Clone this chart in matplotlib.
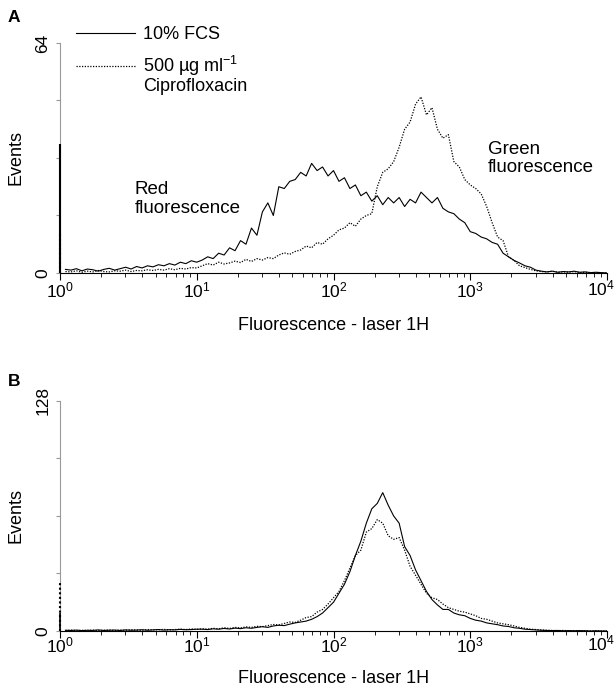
import numpy as np
import matplotlib
matplotlib.use('Agg')
import matplotlib.pyplot as plt

plt.rcParams['font.family'] = ['Liberation Sans', 'DejaVu Sans']
plt.rcParams['mathtext.fontset'] = 'custom'
plt.rcParams['mathtext.rm'] = 'Liberation Sans'
plt.rcParams['mathtext.it'] = 'Liberation Sans:italic'
plt.rcParams['mathtext.bf'] = 'Liberation Sans:bold'

# 荧光通道 (log10), 0 ~ 4, 共 101 个
log_fl = np.linspace(0, 4, 101)
fl = 10 ** log_fl

# 面板 A：10% FCS（实线）
a_fcs = [36, 1.0, 0.8, 1.2, 0.6, 1.1, 0.9, 0.5, 1.0, 1.3,
         0.8, 1.2, 1.6, 1.1, 1.8, 1.4, 2.0, 1.7, 2.3, 2.0,
         2.6, 2.2, 3.0, 2.6, 3.4, 3.0, 3.6, 4.5, 4.0, 5.5,
         5.0, 7.0, 6.2, 9.0, 8.0, 12.5, 10.5, 17.0, 19.5, 16.0,
         24.0, 23.5, 25.5, 26.0, 28.0, 27.0, 30.5, 28.5, 29.5, 27.0,
         28.5, 25.5, 26.5, 23.5, 24.5, 21.5, 22.5, 20.0, 21.5, 19.0,
         21.0, 19.5, 21.0, 18.5, 20.5, 19.5, 22.5, 21.0, 19.5, 21.0,
         18.0, 17.0, 16.5, 15.0, 14.0, 11.5, 11.0, 10.0, 9.5, 8.5,
         8.0, 5.5, 4.5, 3.5, 2.8, 2.0, 1.6, 0.8, 0.5, 0.3,
         0.5, 0.2, 0.4, 0.3, 0.5, 0.2, 0.3, 0.1, 0.2, 0.1, 0.0]
# 面板 A：500 µg/ml 环丙沙星（虚线）
a_cip = [11, 0.4, 0.3, 0.6, 0.2, 0.5, 0.3, 0.7, 0.4, 0.3,
         0.6, 0.5, 0.8, 0.4, 0.7, 0.6, 0.9, 0.7, 1.0, 0.8,
         1.2, 0.9, 1.3, 1.1, 1.5, 1.4, 2.0, 2.6, 2.2, 3.0,
         2.5, 2.8, 3.3, 2.9, 3.8, 3.2, 4.0, 3.6, 4.3, 4.0,
         5.0, 5.6, 5.2, 6.0, 6.4, 7.5, 7.0, 8.5, 8.0, 9.5,
         10.5, 12.0, 12.5, 14.0, 13.0, 15.0, 16.0, 16.5, 24.0, 28.0,
         29.0, 31.0, 35.0, 40.0, 42.0, 47.0, 49.0, 44.0, 46.0, 40.0,
         37.5, 38.5, 31.0, 29.5, 26.0, 24.5, 23.5, 22.0, 18.5, 14.0,
         10.0, 9.0, 4.5, 3.5, 2.0, 1.5, 1.0, 0.6, 0.4, 0.3,
         0.5, 0.2, 0.3, 0.2, 0.4, 0.1, 0.2, 0.1, 0.1, 0.0, 0.0]

# 面板 B
b_fcs = [10, 0.4, 0.3, 0.5, 0.2, 0.4, 0.3, 0.6, 0.3, 0.4,
         0.5, 0.3, 0.6, 0.4, 0.5, 0.7, 0.4, 0.6, 0.8, 0.5,
         0.7, 0.6, 0.9, 0.7, 0.8, 1.0, 1.0, 0.8, 1.2, 1.0,
         1.4, 1.1, 1.6, 1.3, 1.8, 1.5, 2.0, 2.4, 2.0, 2.8,
         3.2, 3.0, 3.8, 4.5, 5.0, 5.5, 6.5, 8.0, 10.0, 13.0,
         16.0, 21.0, 26.0, 33.0, 42.0, 50.0, 60.0, 68.0, 71.0, 77.0,
         70.0, 64.0, 60.0, 47.0, 42.0, 34.0, 28.0, 22.0, 17.5, 14.5,
         12.0, 12.0, 10.0, 9.0, 8.5, 7.0, 6.0, 5.5, 4.5, 4.0,
         3.5, 2.8, 2.5, 1.8, 1.5, 1.0, 0.8, 0.6, 0.4, 0.3,
         0.2, 0.3, 0.1, 0.2, 0.1, 0.2, 0.1, 0.0, 0.1, 0.0, 0.0]
b_cip = [27, 0.3, 0.5, 0.2, 0.4, 0.3, 0.5, 0.2, 0.4, 0.6,
         0.3, 0.5, 0.4, 0.7, 0.5, 0.4, 0.8, 0.6, 0.7, 0.9,
         0.6, 0.8, 1.0, 0.8, 1.1, 0.9, 1.2, 1.0, 1.5, 1.2,
         1.8, 1.4, 2.0, 1.7, 2.3, 2.0, 2.6, 2.4, 3.0, 3.6,
         3.4, 4.2, 5.0, 4.8, 6.0, 7.5, 8.0, 10.5, 12.0, 15.0,
         18.5, 22.0, 28.0, 35.0, 42.0, 45.0, 55.0, 57.0, 62.0, 60.0,
         53.0, 51.0, 52.0, 45.0, 36.0, 31.0, 26.0, 21.0, 18.5, 17.5,
         15.0, 13.0, 12.0, 11.0, 10.5, 9.5, 8.5, 7.0, 6.5, 5.5,
         4.5, 4.0, 3.5, 2.8, 2.0, 1.5, 1.0, 0.8, 0.6, 0.4,
         0.3, 0.2, 0.3, 0.1, 0.2, 0.1, 0.1, 0.0, 0.1, 0.0, 0.0]

decades = [1, 10, 100, 1000, 10000]
dec_labels = ['$10^{0}$', '$10^{1}$', '$10^{2}$', '$10^{3}$', '']

DOT = (0, (1, 1.2))

fig = plt.figure(figsize=(6.16, 6.89), dpi=100)
axA = fig.add_axes([0.0974, 0.6038, 0.888, 0.3338])
axB = fig.add_axes([0.0974, 0.0842, 0.888, 0.3338])


def style(ax, ymax, tpad, xlab_y):
    ax.set_xscale('log')
    ax.set_xlim(1, 1e4)
    ax.set_ylim(0, ymax)
    ax.spines['top'].set_visible(False)
    ax.spines['right'].set_visible(False)
    ax.spines['left'].set_color('0.6')
    ax.spines['bottom'].set_linewidth(0.8)
    ax.set_yticks(np.linspace(0, ymax, 5))
    ax.set_yticklabels(['0', '', '', '', str(ymax)], rotation=90, va='center')
    ax.tick_params(axis='y', color='0.6', length=3, labelsize=12.5, pad=4)
    ax.set_xticks(decades)
    ax.set_xticklabels(dec_labels)
    ax.tick_params(axis='x', which='major', length=5, labelsize=12.5, pad=tpad)
    ax.tick_params(axis='x', which='minor', length=3)
    # 最后一个刻度标签 10^4 向左靠，避免被裁掉
    ax.annotate('$10^{4}$', xy=(1e4, 0), xycoords='data',
                xytext=(8, -(5 + tpad * 100 / 72)),
                textcoords='offset pixels', ha='right', va='top', fontsize=12.5,
                annotation_clip=False)
    ax.set_xlabel('Fluorescence - laser 1H', fontsize=13)
    ax.xaxis.set_label_coords(0.5, xlab_y)
    ax.set_ylabel('Events', fontsize=13, labelpad=8)


# 第一个通道的尖峰画成竖线
axA.vlines(fl[0], 0, a_fcs[0], color='k', lw=1.5, zorder=3, clip_on=False)
axA.vlines(fl[0], 0, a_cip[0], color='k', lw=1.5, ls=DOT, zorder=3, clip_on=False)
lA1, = axA.plot(fl[1:], a_fcs[1:], color='k', lw=0.8)
lA2, = axA.plot(fl[1:], a_cip[1:], color='k', lw=0.9, ls=DOT)
style(axA, 64, 0.5, -0.19)
axB.vlines(fl[0], 0, b_fcs[0], color='k', lw=1.2, zorder=3, clip_on=False)
axB.vlines(fl[0], 0, b_cip[0], color='k', lw=1.5, ls=DOT, zorder=3, clip_on=False)
axB.plot(fl[1:], b_fcs[1:], color='k', lw=0.8)
axB.plot(fl[1:], b_cip[1:], color='k', lw=0.9, ls=DOT)
style(axB, 128, -1.5, -0.168)

axA.text(3.53, 25.5, 'Red\nfluorescence', fontsize=13.5, va='top', linespacing=1.1)
axA.text(1349, 36.8, 'Green\nfluorescence', fontsize=13.5, va='top', linespacing=1.1)

leg = axA.legend([lA1, lA2], ['10% FCS', '500 µg ml$^{-1}$'], loc='upper left',
                 bbox_to_anchor=(0.123, 0.962), bbox_transform=fig.transFigure,
                 frameon=False, fontsize=13, handlelength=3.3, handletextpad=0.4,
                 labelspacing=0.6, borderaxespad=0, borderpad=0)
fig.text(0.232, 0.875, 'Ciprofloxacin', fontsize=13, va='center')

fig.text(0.013, 0.974, 'A', fontsize=12.5, fontweight='bold', va='center')
fig.text(0.013, 0.447, 'B', fontsize=12.5, fontweight='bold', va='center')

plt.savefig('out.png', dpi=100)
